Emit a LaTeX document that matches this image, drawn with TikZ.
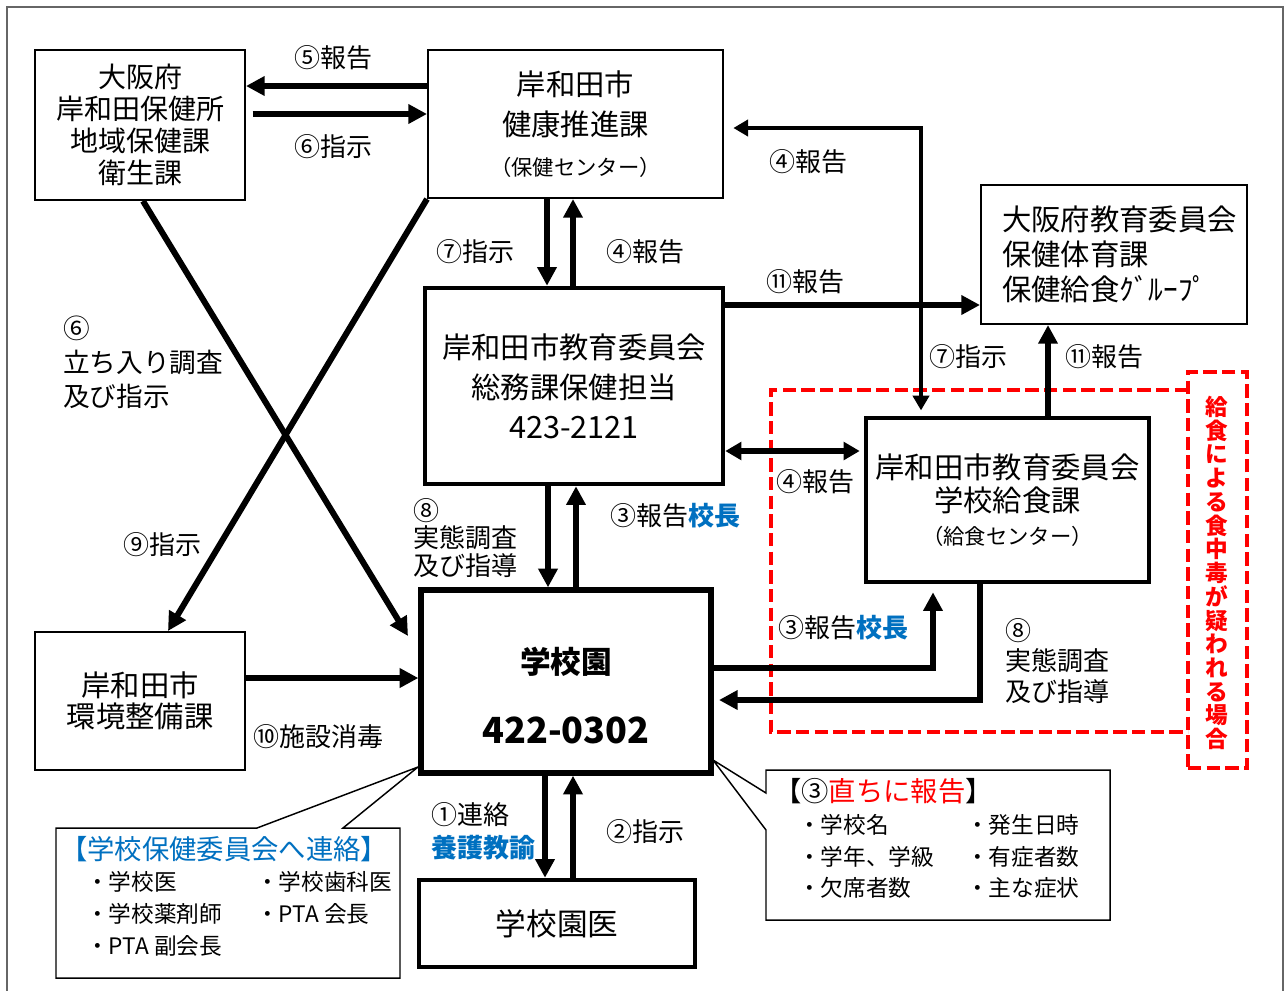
\documentclass[tikz,border=0pt]{standalone}
\usepackage{fontspec}
\setmainfont{Noto Sans CJK JP}
\usetikzlibrary{arrows.meta}
\definecolor{refblue}{RGB}{0,112,192}

\begin{document}
\begin{tikzpicture}[x=0.75pt,y=-0.75pt,
  sized/.style 2 args={minimum width=#1*0.75pt,minimum height=#2*0.75pt},
  thinbox/.style={draw,line width=1.5pt,inner sep=0pt,align=center},
  thickbox/.style={draw,line width=3.4pt,inner sep=0pt,align=center},
  arr/.style={line width=4.5pt,-{Triangle[length=14pt,width=14pt]}},
  dblarr/.style={line width=4pt,{Triangle[length=12pt,width=13pt]}-{Triangle[length=12pt,width=13pt]}},
  elbow/.style={line width=3pt,{Triangle[length=11pt,width=12pt]}-{Triangle[length=11pt,width=12pt]}},
  lbl/.style={inner sep=0pt,font=\fontsize{19.5}{23}\selectfont},
  callout/.style={line width=1.1pt},
  ctitle/.style={inner sep=0pt,anchor=west,font=\fontsize{20.5}{24}\selectfont},
  item/.style={inner sep=0pt,anchor=west,font=\fontsize{17}{20}\selectfont},
  caseline/.style={red,line width=2.7pt,dash pattern=on 10pt off 4pt}]
\useasboundingbox (0,0) rectangle (1287,990);

% Frame
\draw[line width=1.5pt,black!60] (7,7) rectangle (1283,1000);

% Food poisoning case
\draw[caseline] (1188,390) -- (771,390) -- (771,732) -- (1188,732);
\node[caseline,draw,sized={59}{396}] (case) at (1217.5,570) {};
\node[inner sep=0pt,red,align=center,font=\bfseries\fontsize{17}{17.8}\selectfont] (casetxt) at (1217,573)
  {給\\食\\に\\よ\\る\\食\\中\\毒\\が\\疑\\わ\\れ\\る\\場\\合};

% Boxes
\node[thinbox,sized={210}{150},font=\fontsize{21}{24}\selectfont] (hoken) at (140,125)
  {大阪府\\岸和田保健所\\地域保健課\\衛生課};
\node[thinbox,sized={295}{148},font=\fontsize{22}{30}\selectfont] (kenko) at (575.5,124)
  {岸和田市\\健康推進課\\{\fontsize{16}{30}\selectfont （保健センター）}};
\node[thinbox,sized={266}{139}] (pref) at (1114,254.5) {};
\node[inner sep=0pt,anchor=west,align=left,font=\fontsize{22}{26}\selectfont] (preftxt) at (1002,254.5)
  {大阪府教育委員会\\保健体育課\\保健給食ｸﾞﾙｰﾌﾟ};
\node[thickbox,sized={298}{196},font=\fontsize{22}{30}\selectfont] (soumu) at (574,386)
  {岸和田市教育委員会\\総務課保健担当\\{\fontsize{23}{30}\selectfont 423-2121}};
\node[thickbox,sized={283}{164},font=\fontsize{22}{25}\selectfont] (kyushoku) at (1007.5,500)
  {岸和田市教育委員会\\学校給食課\\{\fontsize{16}{25}\selectfont （給食センター）}};
\node[thickbox,line width=4pt,sized={290}{183}] (gakkou) at (566,681.5) {};
\node[inner sep=0pt,font=\bfseries\fontsize{23}{30}\selectfont] (gakkoutxt) at (566,662) {学校園};
\node[inner sep=0pt,font=\bfseries\fontsize{27}{30}\selectfont] (gakkoutel) at (566,730) {422-0302};
\node[thinbox,sized={210}{138},font=\fontsize{22}{23}\selectfont] (kankyo) at (140,701)
  {岸和田市\\環境整備課};
\node[thickbox,sized={276}{87},font=\fontsize{23}{28}\selectfont] (iin) at (557,923.5) {学校園医};

% Arrows
\draw[arr] (kenko.west |- 0,86) -- (hoken.east |- 0,86);
\draw[arr,shorten <=5pt] (hoken.east |- 0,114) -- (kenko.west |- 0,114);
\draw[arr] (kenko.south -| 547,0) -- (soumu.north -| 547,0);
\draw[arr] (soumu.north -| 573,0) -- (kenko.south -| 573,0);
\draw[elbow,shorten <=7pt,shorten >=4pt] (kenko.east |- 0,128) -| (kyushoku.north -| 921,0);
\draw[arr] (soumu.east |- 0,305) -- (pref.west |- 0,305);
\draw[arr] (kyushoku.north -| 1048,0) -- (pref.south -| 1048,0);
\draw[dblarr,shorten >=3pt] (soumu.east |- 0,451) -- (kyushoku.west |- 0,451);
\draw[arr] (soumu.south -| 548,0) -- (gakkou.north -| 548,0);
\draw[arr] (gakkou.north -| 576,0) -- (soumu.south -| 576,0);
\draw[arr,shorten >=6pt] (gakkou.east |- 0,668) -| (kyushoku.south -| 933,0);
\draw[arr,shorten >=4pt] (kyushoku.south -| 980,0) |- (gakkou.east |- 0,700);
\coordinate (crossend) at (408,636);
\draw[arr] (hoken.south -| 143,0) -- (crossend);
\draw[arr] (kenko.south west) -- (kankyo.north -| 168,0);
\draw[arr] (kankyo.east |- 0,678) -- (gakkou.west |- 0,678);
\draw[arr] (gakkou.south -| 545,0) -- (iin.north -| 545,0);
\draw[arr] (iin.north -| 573,0) -- (gakkou.south -| 573,0);

% Labels
\node[lbl] (l5) at (333,58) {⑤報告};
\node[lbl] (l6) at (333,147) {⑥指示};
\node[lbl] (l7a) at (475,252) {⑦指示};
\node[lbl] (l4a) at (645,252) {④報告};
\node[lbl] (l4b) at (808,162) {④報告};
\node[lbl] (l11a) at (805,282) {⑪報告};
\node[lbl] (l7b) at (968,357) {⑦指示};
\node[lbl] (l11b) at (1104,357) {⑪報告};
\node[lbl] (l4c) at (815,482) {④報告};
\node[lbl,anchor=west,align=left,font=\fontsize{20}{25.5}\selectfont] (l6b) at (63,362) {⑥\\立ち入り調査\\及び指示};
\node[lbl] (l9) at (162,545) {⑨指示};
\node[lbl,anchor=west,align=left,font=\fontsize{19.5}{20.6}\selectfont] (l8a) at (413,538) {⑧\\実態調査\\及び指導};
\node[lbl] (l3a) at (675,516) {③報告\textcolor{refblue}{\bfseries 校長}};
\node[lbl] (l3b) at (843,628) {③報告\textcolor{refblue}{\bfseries 校長}};
\node[lbl,anchor=west,align=left,font=\fontsize{19.5}{23}\selectfont] (l8b) at (1005,661) {⑧\\実態調査\\及び指導};
\node[lbl] (l10) at (318,737) {⑩施設消毒};
\node[lbl,anchor=west,align=left,font=\fontsize{19.5}{24.75}\selectfont] (l1) at (431,831) {①連絡\\\textcolor{refblue}{\bfseries 養護教諭}};
\node[lbl] (l2) at (645,832) {②指示};

% Callouts
\coordinate (tipL) at (418,767);
\coordinate (tipR) at (713,760);
\draw[callout] (257,828) -- (tipL) -- (343,828) -- (400,828) -- (400,978) -- (56,978) -- (56,828) -- cycle;
\draw[callout] (766,793) -- (tipR) -- (766,830) -- (766,920) -- (1110,920) -- (1110,770) -- (766,770) -- cycle;
\node[ctitle,text=refblue] (ltitle) at (60,849) {【学校保健委員会へ連絡】};
\node[item] (li1) at (86,882) {・学校医};
\node[item] (li2) at (256,882) {・学校歯科医};
\node[item] (li3) at (86,914) {・学校薬剤師};
\node[item] (li4) at (256,914) {・PTA 会長};
\node[item] (li5) at (86,946) {・PTA 副会長};
\node[ctitle] (rtitle) at (774,791) {【③\textcolor{red}{直ちに報告}】};
\node[item] (ri1) at (798,825) {・学校名};
\node[item] (ri2) at (966,825) {・発生日時};
\node[item] (ri3) at (798,857) {・学年、学級};
\node[item] (ri4) at (966,857) {・有症者数};
\node[item] (ri5) at (798,888) {・欠席者数};
\node[item] (ri6) at (966,888) {・主な症状};
\end{tikzpicture}
\end{document}
